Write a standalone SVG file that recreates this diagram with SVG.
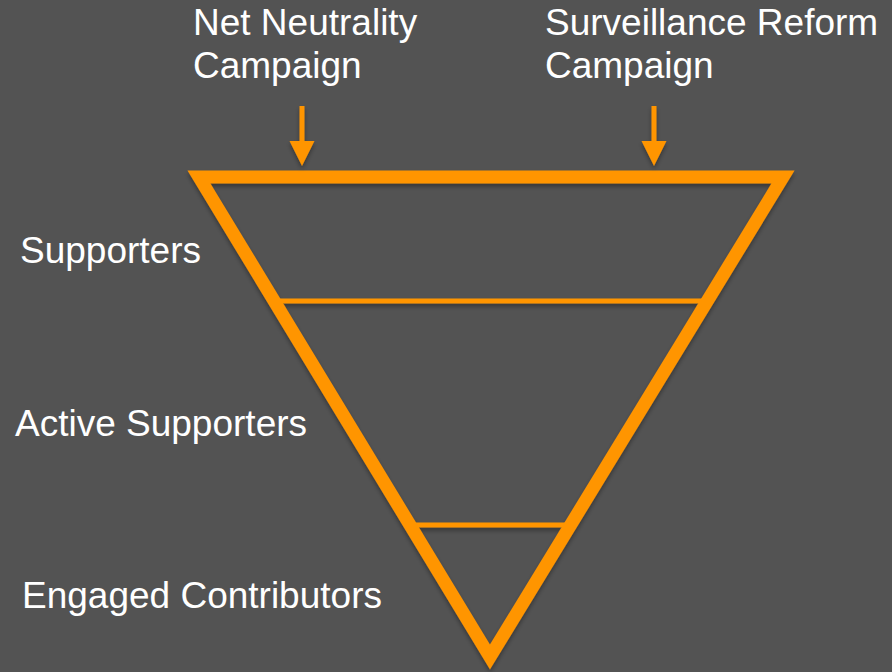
<svg xmlns="http://www.w3.org/2000/svg" width="892" height="672" viewBox="0 0 892 672">
  <defs>
    <filter id="sh" x="-10%" y="-10%" width="120%" height="120%">
      <feDropShadow dx="0" dy="3" stdDeviation="2" flood-color="#000" flood-opacity="0.35"/>
    </filter>
  </defs>
  <style>
    text { font-family: "Liberation Sans", Arial, Helvetica, sans-serif; font-size: 37px; fill: #FFFFFF; }
    .shaft { stroke: #FF9500; stroke-width: 5; fill: none; }
    .head { fill: #FF9500; }
  </style>
  <rect x="0" y="0" width="892" height="672" fill="#535353"/>

  <g id="funnel" filter="url(#sh)">
    <polygon points="199,177 783,177 490,657" fill="none" stroke="#FF9500" stroke-width="13" stroke-linejoin="miter" stroke-miterlimit="10"/>
    <line x1="274" y1="301" x2="709" y2="301" stroke="#FF9500" stroke-width="5"/>
    <line x1="412" y1="525" x2="569" y2="525" stroke="#FF9500" stroke-width="5"/>
  </g>

  <g id="label-net-neutrality">
    <text x="193" y="35">Net Neutrality</text>
    <text x="193" y="78">Campaign</text>
  </g>
  <g id="label-surveillance">
    <text x="545" y="35">Surveillance Reform</text>
    <text x="545" y="78">Campaign</text>
  </g>
  <g id="label-supporters"><text x="20" y="263">Supporters</text></g>
  <g id="label-active"><text x="15" y="436">Active Supporters</text></g>
  <g id="label-engaged"><text x="22" y="608">Engaged Contributors</text></g>

  <g id="connectors" filter="url(#sh)">
    <g id="arrow-net">
      <line class="shaft" x1="302" y1="106" x2="302" y2="142"/>
      <polygon class="head" points="289.5,141 314.5,141 302,166"/>
    </g>
    <g id="arrow-surv">
      <line class="shaft" x1="654" y1="106" x2="654" y2="142"/>
      <polygon class="head" points="641.5,141 666.5,141 654,166"/>
    </g>
  </g>
</svg>
